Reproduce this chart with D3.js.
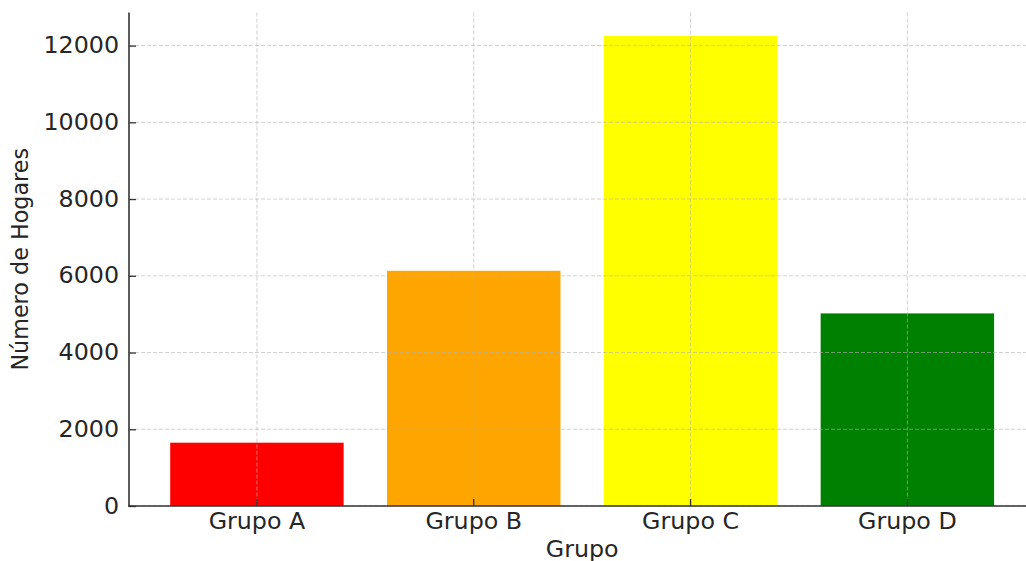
<!DOCTYPE html>
<html>
<head>
<meta charset="utf-8">
<script src="https://cdn.jsdelivr.net/npm/d3@7"></script>
<style>
  html, body { margin: 0; padding: 0; background: #fff; }
  svg { display: block; }
  text { font-family: "DejaVu Sans", sans-serif; fill: #262626; }
</style>
</head>
<body>
<svg id="chart" width="1026" height="561"></svg>
<script>
const categories = ["Grupo A", "Grupo B", "Grupo C", "Grupo D"];
const values = [1650, 6130, 12250, 5020];
const colors = ["#ff0000", "#ffa500", "#ffff00", "#008000"];
const yTicks = [0, 2000, 4000, 6000, 8000, 10000, 12000];
const xTitle = "Grupo";
const yTitle = "Número de Hogares";

const svg = d3.select("#chart");
const mLeft = 129, mRight = 1035.3, mTop = 12.5, mBottom = 506;
const FS = 22.3, STRETCH = 1.065;

function stretch(sel) {
  sel.each(function () {
    const w = this.getComputedTextLength();
    d3.select(this).attr("textLength", w * STRETCH).attr("lengthAdjust", "spacingAndGlyphs");
  });
}

const x = d3.scaleBand()
  .domain(categories)
  .range([mLeft, mRight])
  .paddingInner(0.2)
  .paddingOuter(0.19);

const y = d3.scaleLinear()
  .domain([0, d3.max(values) * 1.05])
  .range([mBottom, mTop]);

// bars
svg.append("g").selectAll("rect")
  .data(categories)
  .join("rect")
  .attr("x", d => x(d))
  .attr("width", x.bandwidth())
  .attr("y", (d, i) => y(values[i]))
  .attr("height", (d, i) => y(0) - y(values[i]))
  .attr("fill", (d, i) => colors[i]);

// grid (drawn over bars)
const grid = svg.append("g")
  .attr("stroke", "#b0b0b0")
  .attr("stroke-opacity", 0.6)
  .attr("stroke-width", 1)
  .attr("stroke-dasharray", "4,2");
grid.selectAll("line.h")
  .data(yTicks)
  .join("line")
  .attr("class", "h")
  .attr("x1", mLeft).attr("x2", mRight)
  .attr("y1", d => y(d)).attr("y2", d => y(d));
grid.selectAll("line.v")
  .data(categories)
  .join("line")
  .attr("class", "v")
  .attr("x1", d => x(d) + x.bandwidth() / 2)
  .attr("x2", d => x(d) + x.bandwidth() / 2)
  .attr("y1", mTop).attr("y2", mBottom);

// y axis
const yAxis = svg.append("g")
  .attr("transform", `translate(${mLeft},0)`)
  .call(d3.axisLeft(y).tickValues(yTicks).tickFormat(d3.format("d")).tickSizeInner(-7).tickSizeOuter(0).tickPadding(10));
yAxis.select(".domain").remove();
yAxis.selectAll(".tick line").attr("stroke", "#333").attr("stroke-width", 1.3);
yAxis.selectAll(".tick text")
  .attr("font-size", FS)
  .attr("font-family", "DejaVu Sans")
  .attr("fill", "#262626")
  .call(stretch);

// x axis
const xAxis = svg.append("g")
  .attr("transform", `translate(0,${mBottom})`)
  .call(d3.axisBottom(x).tickSizeInner(-7).tickSizeOuter(0).tickPadding(7.5));
xAxis.select(".domain").remove();
xAxis.selectAll(".tick line").attr("stroke", "#333").attr("stroke-width", 1.3);
xAxis.selectAll(".tick text")
  .attr("font-size", FS)
  .attr("font-family", "DejaVu Sans")
  .attr("fill", "#262626")
  .call(stretch);

// spines
svg.append("line")
  .attr("x1", mLeft).attr("x2", mLeft)
  .attr("y1", mTop).attr("y2", mBottom + 0.75)
  .attr("stroke", "#333").attr("stroke-width", 1.6);
svg.append("line")
  .attr("x1", mLeft - 0.75).attr("x2", mRight)
  .attr("y1", mBottom).attr("y2", mBottom)
  .attr("stroke", "#333").attr("stroke-width", 1.6);

// titles
svg.append("text")
  .attr("x", (mLeft + mRight) / 2)
  .attr("y", 556.5)
  .attr("text-anchor", "middle")
  .attr("font-size", FS)
  .text(xTitle)
  .call(stretch);

svg.append("text")
  .attr("transform", `translate(28.3,${(mTop + mBottom) / 2}) rotate(-90) scale(1,${STRETCH})`)
  .attr("text-anchor", "middle")
  .attr("font-size", FS)
  .text(yTitle);
</script>
</body>
</html>
